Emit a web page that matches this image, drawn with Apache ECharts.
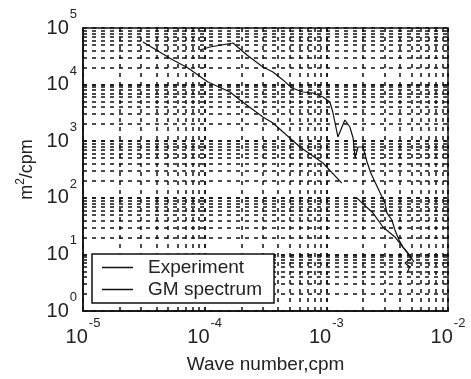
<!DOCTYPE html>
<html>
<head>
<meta charset="utf-8">
<script src="https://cdn.jsdelivr.net/npm/echarts@6/dist/echarts.min.js"></script>
<style>html,body{margin:0;padding:0;background:#fff}#c{width:471px;height:379px}</style>
</head>
<body>
<div id="c"></div>
<script>
// Experiment spectrum (wave number cpm, m^2/cpm)
const experimentX = [9.15e-5, 1.105e-4, 1.708e-4, 2.226e-4, 3.01e-4, 3.64e-4, 4.40e-4, 5.21e-4, 6.43e-4, 7.76e-4, 9.38e-4, 1.07e-3, 1.13e-3, 1.245e-3, 1.42e-3, 1.56e-3, 1.66e-3, 1.72e-3, 1.82e-3, 2.00e-3, 2.16e-3, 2.32e-3, 2.65e-3, 3.03e-3, 3.15e-3, 3.46e-3, 3.66e-3, 3.96e-3, 4.26e-3, 4.68e-3, 5.05e-3, 4.43e-3, 4.86e-3, 4.59e-3];
const experimentY = [4.09e4, 4.62e4, 5.43e4, 3.33e4, 2.05e4, 1.67e4, 1.21e4, 8.71e3, 7.40e3, 7.11e3, 6.04e3, 4.93e3, 3.28e3, 1.19e3, 2.37e3, 1.78e3, 1.14e3, 505, 790, 790, 430, 274, 149, 80.9, 53.8, 40.5, 27.0, 17.9, 13.5, 10.6, 8.63, 7.05, 5.98, 4.69];
// GM spectrum (null = gap in the drawn curve)
const gmX = [3.11e-5, 5.49e-5, 7.30e-5, 1.064e-4, 1.615e-4, 1.95e-4, 3.01e-4, 3.64e-4, 6.07e-4, 9.38e-4, 1.34e-3, null, 1.75e-3, 2.42e-3, 2.92e-3, 3.66e-3, 4.59e-3, 5.25e-3];
const gmY = [5.66e4, 2.72e4, 1.96e4, 1.11e4, 7.40e3, 5.35e3, 2.68e3, 2.10e3, 790, 412, 182, null, 103, 53.8, 30.5, 20.3, 11.0, 7.35];
const xMin = 1e-5, xMax = 1e-2, yMin = 1, yMax = 1e5;

function pairs(xs, ys) {
  return xs.map((x, i) => (x == null || ys[i] == null) ? null : [x, ys[i]]);
}
function logGrid(lo, hi) {
  const out = [];
  for (let e = Math.round(Math.log10(lo)); e < Math.round(Math.log10(hi)); e++) {
    for (let m = 1; m <= 9; m++) {
      const v = m * Math.pow(10, e);
      if (v > lo * 1.0001 && v < hi * 0.9999) out.push(v);
    }
  }
  return out;
}
const gridLineStyle = { type: [4, 5], color: '#111', width: 1.5 };
const gridMarks = [].concat(
  logGrid(xMin, xMax).map(v => [{ coord: [v, yMin] }, { coord: [v, yMax] }]),
  logGrid(yMin, yMax).map(v => [{ coord: [xMin, v] }, { coord: [xMax, v] }])
);

function powLabel(v) {
  const e = Math.round(Math.log10(v));
  return '{b|10}{s|' + e + '}';
}
const FONT = 'Liberation Sans';
const rich = {
  b: { fontSize: 20, fontFamily: FONT, color: '#222', lineHeight: 40, verticalAlign: 'middle' },
  s: { fontSize: 13, fontFamily: FONT, color: '#222', lineHeight: 12, verticalAlign: 'top', padding: [0, 0, 0, 1] }
};

const chart = echarts.init(document.getElementById('c'), null, { renderer: 'canvas' });
chart.setOption({
  animation: false,
  backgroundColor: '#fff',
  grid: { left: 83, right: 23, top: 28, bottom: 68, show: true, borderColor: '#111', borderWidth: 1.5, backgroundColor: 'transparent' },
  legend: {
    left: 92, top: 254, orient: 'vertical',
    backgroundColor: '#fff', borderColor: '#111', borderWidth: 1.5, borderRadius: 0,
    padding: [4, 12, 4, 10], itemGap: 3, itemWidth: 31, itemHeight: 1.5,
    icon: 'rect',
    textStyle: { fontSize: 19, fontFamily: FONT, color: '#222', lineHeight: 18, padding: [0, 0, 0, 10] },
    data: ['Experiment', 'GM spectrum']
  },
  xAxis: {
    type: 'log', logBase: 10, min: xMin, max: xMax,
    name: 'Wave number,cpm', nameLocation: 'middle', nameGap: 44,
    nameTextStyle: { fontSize: 19, fontFamily: FONT, color: '#222' },
    axisLine: { show: true, lineStyle: { color: '#111', width: 1.5 } },
    axisTick: { show: false },
    splitLine: { show: true, lineStyle: gridLineStyle },
    axisLabel: { margin: 6, formatter: powLabel, rich: rich }
  },
  yAxis: {
    type: 'log', logBase: 10, min: yMin, max: yMax,
    name: '{a|m}{s|2}{a|/cpm}', nameLocation: 'middle', nameGap: 44,
    nameTextStyle: { rich: {
      a: { fontSize: 18, fontFamily: FONT, color: '#222', lineHeight: 24, verticalAlign: 'middle' },
      s: { fontSize: 12, fontFamily: FONT, color: '#222', lineHeight: 12, verticalAlign: 'top' }
    } },
    axisLine: { show: true, lineStyle: { color: '#111', width: 1.5 } },
    axisTick: { show: false },
    splitLine: { show: true, lineStyle: gridLineStyle },
    axisLabel: { margin: 6, formatter: powLabel, rich: rich }
  },
  series: [
    {
      name: 'Experiment', type: 'line', symbol: 'none', z: 3,
      lineStyle: { color: '#111', width: 1.2 }, itemStyle: { color: '#111' },
      data: pairs(experimentX, experimentY),
      markLine: { silent: true, symbol: ['none', 'none'], label: { show: false }, lineStyle: gridLineStyle, emphasis: { disabled: true }, data: gridMarks, z: 1 }
    },
    {
      name: 'GM spectrum', type: 'line', symbol: 'none', z: 3, connectNulls: false,
      lineStyle: { color: '#111', width: 1.2 }, itemStyle: { color: '#111' },
      data: pairs(gmX, gmY)
    }
  ]
});
</script>
</body>
</html>
